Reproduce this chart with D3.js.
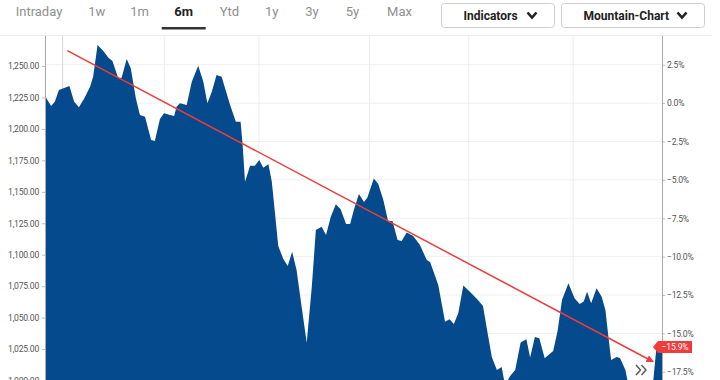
<!DOCTYPE html>
<html>
<head>
<meta charset="utf-8">
<script src="https://cdn.jsdelivr.net/npm/d3@7"></script>
<style>
  html, body { margin: 0; padding: 0; background: #fff; }
  svg { display: block; font-family: Roboto, "Open Sans", sans-serif; }
</style>
</head>
<body>
<svg id="chart" width="720" height="380"></svg>
<script>
// ---------- data ----------
const tabs = ["Intraday", "1w", "1m", "6m", "Ytd", "1y", "3y", "5y", "Max"];
const activeTab = "6m";
const buttons = ["Indicators", "Mountain-Chart"];

// day offset within the 6-month window and closing value
const days = [0, 1.8, 2.9, 4.1, 7.2, 8.6, 10.0, 11.6, 13.3, 14.2, 15.5, 17.2, 18.7, 19.9, 21.6, 22.6, 24.1, 25.3, 26.8, 28.0,
  29.5, 31.3, 32.4, 33.9, 35.1, 36.9, 38.1, 38.8, 39.8, 41.8, 43.3, 45.2, 46.7, 47.9, 49.2, 50.6, 52.1, 54.6, 56.3, 57.7,
  58.3, 59.0, 60.5, 61.9, 63.2, 64.4, 65.9, 66.9, 67.8, 68.8, 70.3, 71.6, 72.9, 74.2, 75.7, 77.2, 78.7, 79.9, 81.6, 82.9,
  84.3, 85.8, 87.2, 88.8, 90.0, 91.1, 92.6, 94.1, 95.1, 97.0, 98.3, 99.8, 101.2, 102.5, 104.0, 105.2, 106.7, 108.6, 110.6, 112.6,
  113.6, 116.0, 118.0, 119.3, 120.6, 121.9, 123.4, 125.4, 127.7, 129.2, 130.3, 131.8, 133.3, 134.7, 135.7, 137.2, 138.7, 140.3, 142.0, 143.1,
  144.5, 145.8, 147.4, 149.9, 151.2, 152.5, 154.4, 156.2, 157.7, 158.9, 159.9, 161.1, 162.7, 164.2, 165.3, 166.2, 167.0, 168.6, 169.6, 171.2,
  172.1, 175.5, 179.1, 180.4, 182.0];
const prices = [1226.2, 1218.2, 1221.6, 1230.9, 1234.1, 1221.6, 1217.2, 1224.3, 1233.5, 1241.5, 1266.7, 1261.9, 1256.6, 1254.0, 1240.2, 1240.7, 1255.6, 1248.2, 1224.3, 1211.0,
  1209.7, 1191.2, 1190.4, 1207.9, 1212.4, 1211.0, 1210.3, 1217.6, 1220.4, 1219.0, 1237.5, 1250.2, 1237.5, 1220.4, 1229.6, 1242.8, 1241.5, 1219.0, 1205.7, 1205.7,
  1187.2, 1158.0, 1170.7, 1170.7, 1175.3, 1169.2, 1171.9, 1158.0, 1134.2, 1106.9, 1096.6, 1091.0, 1102.4, 1087.8, 1058.7, 1030.0, 1074.6, 1119.6, 1122.3, 1115.7,
  1130.2, 1140.1, 1136.1, 1124.4, 1124.4, 1135.5, 1148.3, 1141.9, 1145.5, 1160.6, 1156.2, 1143.5, 1126.8, 1126.8, 1111.7, 1110.9, 1117.6, 1114.9, 1107.7, 1095.8,
  1094.2, 1075.9, 1046.7, 1048.6, 1044.9, 1053.4, 1075.5, 1070.3, 1064.0, 1059.2, 1041.7, 1018.7, 1008.3, 1010.7, 996.4, 1003.6, 1008.3, 1030.2, 1032.8, 1018.3,
  1034.6, 1033.6, 1017.6, 1023.5, 1039.4, 1064.0, 1077.3, 1065.3, 1060.8, 1062.8, 1070.6, 1061.4, 1073.3, 1066.6, 1056.0, 1034.6, 1016.3, 1018.7, 1017.9, 1008.3,
  996.4, 988.5, 990.9, 1027.4, 1026.6];

const basePrice = 1220.5;                       // 0.0% reference
const priceTicks = [1250, 1225, 1200, 1175, 1150, 1125, 1100, 1075, 1050, 1025, 1000];
const pctTicks = [2.5, 0, -2.5, -5, -7.5, -10, -12.5, -15, -17.5];
const gridDays = [35.2, 63.1, 95.7, 125.0, 155.8];
const startGridDay = 5.2;
const trendDays = [6.6, 179.4];
const trendPrices = [1262.2, 1014.9];

// ---------- layout ----------
const svg = d3.select("#chart");
const L = 45, R = 662, T = 36, B = 400;
const x = d3.scaleLinear().domain([0, 182]).range([L, R]);
const y = d3.scaleLinear().domain([1000, 1250]).range([380.5, 66]);
const pctY = p => y(basePrice * (1 + p / 100));

svg.append("defs").append("clipPath").attr("id", "plotclip")
  .append("rect").attr("x", L).attr("y", T).attr("width", R - L).attr("height", B - T);

// header
svg.append("line").attr("x1", 0).attr("x2", 712).attr("y1", 35.5).attr("y2", 35.5)
  .attr("stroke", "#ececec").attr("stroke-width", 1);

const tabX = [39, 96.8, 139.5, 183.7, 229.5, 271.7, 312, 352.5, 399.5];
const tabScale = d3.scalePoint().domain(tabs).range([tabX[0], tabX[tabX.length - 1]]);
svg.append("g").selectAll("text").data(tabs).join("text")
  .attr("x", (d, i) => tabX[i])
  .attr("y", 16)
  .attr("text-anchor", "middle")
  .attr("font-size", 13)
  .attr("font-weight", d => d === activeTab ? 700 : 400)
  .attr("fill", d => d === activeTab ? "#222" : "#8f8f8f")
  .text(d => d);
const ai = tabs.indexOf(activeTab);
svg.append("rect").attr("x", tabX[ai] - 22).attr("y", 27).attr("width", 44).attr("height", 2.5).attr("fill", "#333");

const btnBoxes = [[441, 554], [561, 704]];
buttons.forEach((b, i) => {
  const [x0, x1] = btnBoxes[i];
  const g = svg.append("g");
  g.append("rect").attr("x", x0 + 0.5).attr("y", 3.5).attr("width", x1 - x0).attr("height", 24)
    .attr("rx", 3).attr("fill", "#fff").attr("stroke", "#cfcfcf");
  const tw = i === 0 ? 53 : 83;
  const cx = (x0 + x1) / 2 + 0.5;
  const tx = cx - (tw + 16) / 2;
  g.append("text").attr("x", tx).attr("y", 19.5).attr("font-size", 12).attr("font-weight", 700)
    .attr("fill", "#222").text(b);
  const chx = tx + tw + 11;
  g.append("path").attr("d", `M${chx},12.5 L${chx + 4.5},17.5 L${chx + 9},12.5`)
    .attr("fill", "none").attr("stroke", "#222").attr("stroke-width", 2.6).attr("stroke-linejoin", "miter");
});

// grid
const grid = svg.append("g");
grid.selectAll("line.h").data(pctTicks).join("line").attr("class", "h")
  .attr("x1", L).attr("x2", R).attr("y1", d => pctY(d)).attr("y2", d => pctY(d))
  .attr("stroke", "#efefef").attr("stroke-width", 1);
grid.selectAll("line.v").data(gridDays).join("line").attr("class", "v")
  .attr("x1", d => x(d)).attr("x2", d => x(d)).attr("y1", T).attr("y2", B)
  .attr("stroke", "#ededed").attr("stroke-width", 1);
grid.append("line").attr("x1", x(startGridDay)).attr("x2", x(startGridDay)).attr("y1", T).attr("y2", B)
  .attr("stroke", "#d4d4d4").attr("stroke-width", 1);

// area
const data = days.map((d, i) => ({ d, v: prices[i] }));
const area = d3.area().x(p => x(p.d)).y0(B).y1(p => y(p.v)).curve(d3.curveLinear);
svg.append("path").datum(data).attr("clip-path", "url(#plotclip)")
  .attr("d", area).attr("fill", "#044a8c");

// axes
const leftAxis = d3.axisLeft(y).tickValues(priceTicks).tickSize(3).tickPadding(3)
  .tickFormat(d3.format(",.2f"));
const gl = svg.append("g").attr("transform", `translate(${L},0)`).call(leftAxis);
gl.select(".domain").remove();
gl.selectAll(".tick line").attr("stroke", "#bbb");
gl.selectAll(".tick text").attr("fill", "#555").attr("font-size", 8.6)
  .attr("font-family", "Roboto, sans-serif").attr("letter-spacing", "-0.25");
svg.append("line").attr("x1", L + 0.5).attr("x2", L + 0.5).attr("y1", T).attr("y2", B).attr("stroke", "#aaa");

const pctScale = d3.scaleLinear().domain([(1000 / basePrice - 1) * 100, (1250 / basePrice - 1) * 100]).range(y.range());
const rightAxis = d3.axisRight(pctScale).tickValues(pctTicks).tickSize(3).tickPadding(2)
  .tickFormat(d => d3.format(".1f")(d) + "%");
const gr = svg.append("g").attr("transform", `translate(${R},0)`).call(rightAxis);
gr.select(".domain").remove();
gr.selectAll(".tick line").attr("stroke", "#bbb");
gr.selectAll(".tick text").attr("fill", "#555").attr("font-size", 8.6)
  .attr("font-family", "Roboto, sans-serif").attr("letter-spacing", "-0.25");
svg.append("line").attr("x1", R + 0.5).attr("x2", R + 0.5).attr("y1", T).attr("y2", B).attr("stroke", "#aaa");

// trend line with arrow
svg.select("defs").append("marker").attr("id", "arrow")
  .attr("viewBox", "0 0 10 10").attr("refX", 9).attr("refY", 5)
  .attr("markerWidth", 5).attr("markerHeight", 5).attr("orient", "auto")
  .append("path").attr("d", "M0,0 L10,5 L0,10 z").attr("fill", "#ee3b3b");
svg.append("line")
  .attr("x1", x(trendDays[0])).attr("y1", y(trendPrices[0]))
  .attr("x2", x(trendDays[1])).attr("y2", y(trendPrices[1]))
  .attr("stroke", "#ee3b3b").attr("stroke-width", 1.5).attr("marker-end", "url(#arrow)");

// scroll chevrons
const chg = svg.append("g").attr("fill", "none").attr("stroke", "#555").attr("stroke-width", 1.4);
chg.append("path").attr("d", "M636,365 L640.5,370 L636,375");
chg.append("path").attr("d", "M641.5,365 L646,370 L641.5,375");

// last value tag
const last = prices[prices.length - 1];
const lastPct = (last / basePrice - 1) * 100;
const ty = y(last);
svg.append("path")
  .attr("d", `M653,${ty} L658,${ty - 6} L692,${ty - 6} L692,${ty + 6} L658,${ty + 6} Z`)
  .attr("fill", "#ee3b3b");
svg.append("text").attr("x", 675).attr("y", ty + 3).attr("text-anchor", "middle")
  .attr("font-size", 8.6).attr("fill", "#fff").attr("letter-spacing", "-0.2")
  .text(d3.format(".1f")(lastPct) + "%");
</script>
</body>
</html>
